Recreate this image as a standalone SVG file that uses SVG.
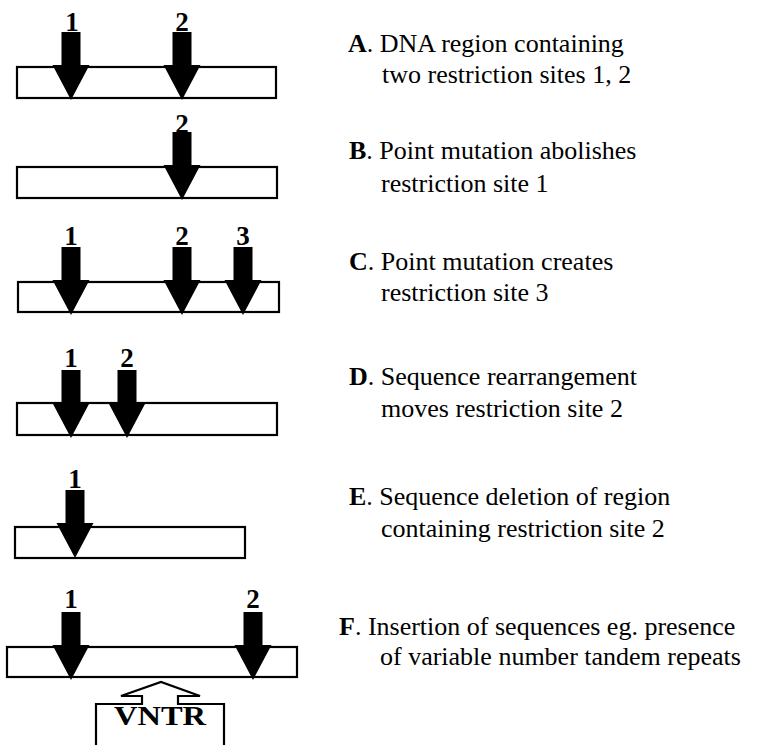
<svg xmlns="http://www.w3.org/2000/svg" xmlns:xlink="http://www.w3.org/1999/xlink" width="758" height="745" viewBox="0 0 758 745">
<style>
.bar{fill:#fff;stroke:#000;stroke-width:2.2}
.num{font-family:"Liberation Serif","Times New Roman",serif;font-weight:bold;font-size:27px;text-anchor:middle;fill:#000}
.cap{font-family:"Liberation Serif","Times New Roman",serif;font-size:26px;fill:#000}
.cap .b{font-weight:bold}
.vntr{fill:none;stroke:#000;stroke-width:2.2;stroke-linejoin:miter}
</style>
<defs>
<path id="arrow" d="M-9.5,-68 L9.5,-68 L9.5,-35 L18.5,-35 L0,0 L-18.5,-35 L-9.5,-35 Z" fill="#000"/>
</defs>
<rect width="758" height="745" fill="#fff"/>

<g id="panelA">
<rect class="bar" x="17" y="67" width="259" height="31"/>
<use xlink:href="#arrow" href="#arrow" transform="translate(71,100)"/>
<use xlink:href="#arrow" href="#arrow" transform="translate(182,100)"/>
<text class="num" x="72" y="31">1</text>
<text class="num" x="182" y="31">2</text>
<text class="cap" x="348" y="52"><tspan class="b">A</tspan>. DNA region containing</text>
<text class="cap" x="382" y="83">two restriction sites 1, 2</text>
</g>

<g id="panelB">
<rect class="bar" x="17" y="167" width="260" height="31"/>
<use xlink:href="#arrow" href="#arrow" transform="translate(182,200)"/>
<text class="num" x="182" y="133">2</text>
<text class="cap" x="349" y="159"><tspan class="b">B</tspan>. Point mutation abolishes</text>
<text class="cap" x="381" y="192">restriction site 1</text>
</g>

<g id="panelC">
<rect class="bar" x="18" y="282" width="261" height="30"/>
<use xlink:href="#arrow" href="#arrow" transform="translate(71,315)"/>
<use xlink:href="#arrow" href="#arrow" transform="translate(182,315)"/>
<use xlink:href="#arrow" href="#arrow" transform="translate(243,315)"/>
<text class="num" x="71" y="245">1</text>
<text class="num" x="182" y="245">2</text>
<text class="num" x="243" y="245">3</text>
<text class="cap" x="349" y="270"><tspan class="b">C</tspan>. Point mutation creates</text>
<text class="cap" x="381" y="301">restriction site 3</text>
</g>

<g id="panelD">
<rect class="bar" x="17" y="403" width="260" height="32"/>
<use xlink:href="#arrow" href="#arrow" transform="translate(71,438)"/>
<use xlink:href="#arrow" href="#arrow" transform="translate(127,438)"/>
<text class="num" x="71" y="367">1</text>
<text class="num" x="127" y="367">2</text>
<text class="cap" x="349" y="385"><tspan class="b">D</tspan>. Sequence rearrangement</text>
<text class="cap" x="381" y="417">moves restriction site 2</text>
</g>

<g id="panelE">
<rect class="bar" x="15" y="527" width="230" height="31"/>
<use xlink:href="#arrow" href="#arrow" transform="translate(75,558)"/>
<text class="num" x="75" y="488">1</text>
<text class="cap" x="349" y="505"><tspan class="b">E</tspan>. Sequence deletion of region</text>
<text class="cap" x="381" y="537">containing restriction site 2</text>
</g>

<g id="panelF">
<rect class="bar" x="7" y="647" width="290" height="30"/>
<use xlink:href="#arrow" href="#arrow" transform="translate(71,680)"/>
<use xlink:href="#arrow" href="#arrow" transform="translate(253,680)"/>
<text class="num" x="71" y="608">1</text>
<text class="num" x="253" y="608">2</text>
<text class="cap" x="339" y="635"><tspan class="b">F</tspan>. Insertion of sequences eg. presence</text>
<text class="cap" x="380" y="665">of variable number tandem repeats</text>
</g>

<g id="vntr">
<path class="vntr" d="M96,746 L96,704 L142,704 L142,696 L121,696 L161,682 L200,696 L178,696 L178,704 L224,704 L224,746"/>
<text class="num" x="160" y="725" font-size="23" textLength="92" lengthAdjust="spacingAndGlyphs">VNTR</text>
</g>
</svg>
